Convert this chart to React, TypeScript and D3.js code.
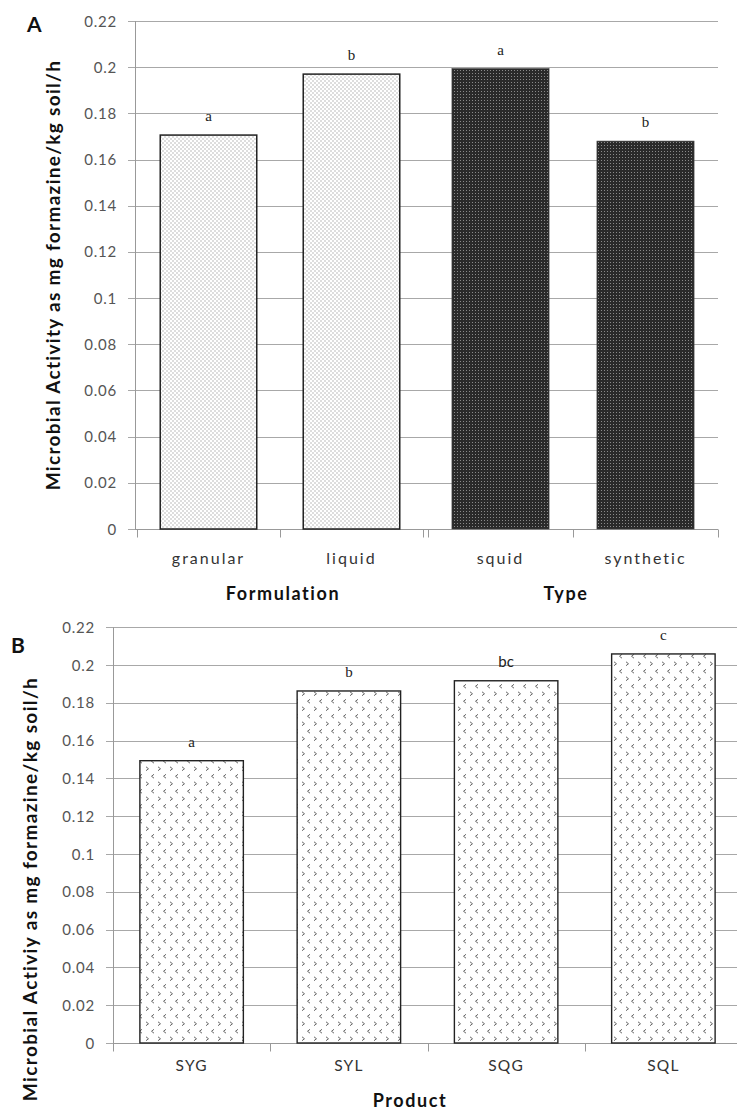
import React from "react";
import * as d3 from "d3";

const formulationCats = ["granular", "liquid"];
const formulationVals = [0.1706, 0.197];
const formulationLetters = ["a", "b"];
const typeCats = ["squid", "synthetic"];
const typeVals = [0.1994, 0.168];
const typeLetters = ["a", "b"];
const productCats = ["SYG", "SYL", "SQG", "SQL"];
const productVals = [0.1494, 0.1863, 0.1917, 0.2059];
const productLetters = ["a", "b", "bc", "c"];
const yTicks = [0, 0.02, 0.04, 0.06, 0.08, 0.1, 0.12, 0.14, 0.16, 0.18, 0.2, 0.22];
const yTitleA = "Microbial Activity as mg formazine/kg soil/h";
const yTitleB = "Microbial Activiy as mg formazine/kg soil/h";

const SANS = "Lato, 'Open Sans', sans-serif";
const SERIF = "'Liberation Serif', 'DejaVu Serif', serif";
const fmt = (v: number) => (v === 0 ? "0" : String(+v.toFixed(2)));

export default function App() {
  // Panel A
  const axA = 135;
  const yA = d3.scaleLinear().domain([0, 0.22]).range([529, 21]);
  const xF = d3.scaleBand<string>().domain(formulationCats).range([137, 423]);
  const xT = d3.scaleBand<string>().domain(typeCats).range([428, 718]);
  const rightA = 718;
  // Panel B
  const axB = 113;
  const yB = d3.scaleLinear().domain([0, 0.22]).range([1043, 627.3]);
  const xP = d3.scaleBand<string>().domain(productCats).range([113, 742]);
  const rightB = 745;

  const barW = (s: d3.ScaleBand<string>, r: number) => s.bandwidth() * r;

  const gridColor = "#a8a8a8";
  const axisColor = "#999";

  const renderYAxis = (y: d3.ScaleLinear<number, number>, ax: number, right: number, labelX: number) => (
    <g>
      {yTicks.map((t) => (
        <g key={t}>
          <line x1={ax - 7} x2={right} y1={Math.round(y(t)) + 0.5} y2={Math.round(y(t)) + 0.5} stroke={gridColor} strokeWidth={1} />
          <text x={labelX} y={y(t) + 5.5} textAnchor="end" fontFamily={SANS} fontSize={15} letterSpacing={0.8} fill="#555">
            {fmt(t)}
          </text>
        </g>
      ))}
      <line x1={ax + 0.5} x2={ax + 0.5} y1={y(0.22)} y2={y(0)} stroke={axisColor} strokeWidth={1} />
    </g>
  );

  const bandTicks = (s: d3.ScaleBand<string>, y0: number) => {
    const [a] = s.range();
    const pos = [a, ...s.domain().map((d) => (s(d) as number) + s.bandwidth())];
    return pos.map((p, i) => (
      <line key={i} x1={Math.round(p) + 0.5} x2={Math.round(p) + 0.5} y1={y0} y2={y0 + 8} stroke={axisColor} strokeWidth={1} />
    ));
  };

  return (
    <svg width={737} height={1114} style={{ position: "absolute", left: 0, top: 0, background: "#fff" }}>
      <defs>
        <pattern id="dotLight" width={4} height={4} patternUnits="userSpaceOnUse">
          <rect width={4} height={4} fill="#fff" />
          <rect x={0.5} y={0.5} width={1} height={1} fill="#777" />
          <rect x={2.5} y={2.5} width={1} height={1} fill="#777" />
        </pattern>
        <pattern id="dotDark" width={3} height={3} patternUnits="userSpaceOnUse">
          <rect width={3} height={3} fill="#2a2a2a" />
          <rect x={1} y={1} width={1} height={1} fill="#8a8a8a" />
        </pattern>
        <pattern id="chev" width={12} height={15} patternUnits="userSpaceOnUse">
          <rect width={12} height={15} fill="#fff" />
          <path d="M2,1.8 L4.5,3.75 L2,5.7 M10,9.3 L7.5,11.25 L10,13.2" fill="none" stroke="#555" strokeWidth={0.9} />
        </pattern>
      </defs>

      {/* ===== Panel A ===== */}
      <text x={27} y={32} fontFamily={SANS} fontWeight="bold" fontSize={21} fill="#111">A</text>
      {renderYAxis(yA, axA, rightA, 117)}
      <line x1={axA} x2={rightA} y1={529.5} y2={529.5} stroke={axisColor} />
      {bandTicks(xF, 529.5)}
      {bandTicks(xT, 529.5)}

      {formulationCats.map((c, i) => {
        const w = barW(xF, 0.675);
        const cx = (xF(c) as number) + xF.bandwidth() / 2;
        return (
          <g key={c}>
            <rect x={cx - w / 2} y={yA(formulationVals[i])} width={w} height={yA(0) - yA(formulationVals[i])} fill="url(#dotLight)" stroke="#222" strokeWidth={1.5} />
            <text x={cx} y={yA(formulationVals[i]) - 14} textAnchor="middle" fontFamily={SERIF} fontSize={15} fill="#222">{formulationLetters[i]}</text>
            <text x={cx} y={564} textAnchor="middle" fontFamily={SANS} fontSize={16} letterSpacing={2} fill="#333">{c}</text>
          </g>
        );
      })}
      {typeCats.map((c, i) => {
        const w = barW(xT, 0.67);
        const cx = (xT(c) as number) + xT.bandwidth() / 2;
        return (
          <g key={c}>
            <rect x={cx - w / 2} y={yA(typeVals[i])} width={w} height={yA(0) - yA(typeVals[i])} fill="url(#dotDark)" stroke="#444" strokeWidth={0.6} />
            <text x={cx} y={yA(typeVals[i]) - 14} textAnchor="middle" fontFamily={SERIF} fontSize={15} fill="#222">{typeLetters[i]}</text>
            <text x={cx} y={564} textAnchor="middle" fontFamily={SANS} fontSize={16} letterSpacing={2} fill="#333">{c}</text>
          </g>
        );
      })}
      <text x={283} y={600} textAnchor="middle" fontFamily={SANS} fontWeight="bold" fontSize={18} letterSpacing={1.6} fill="#111">Formulation</text>
      <text x={566} y={600} textAnchor="middle" fontFamily={SANS} fontWeight="bold" fontSize={18} letterSpacing={1.6} fill="#111">Type</text>
      <text transform={`translate(60,275) rotate(-90)`} textAnchor="middle" fontFamily={SANS} fontWeight="bold" fontSize={19} letterSpacing={1.3} fill="#111">{yTitleA}</text>

      {/* ===== Panel B ===== */}
      <text x={11} y={653} fontFamily={SANS} fontWeight="bold" fontSize={21} fill="#111">B</text>
      {renderYAxis(yB, axB, rightB, 95)}
      <line x1={axB} x2={rightB} y1={1043.5} y2={1043.5} stroke={axisColor} />
      {bandTicks(xP, 1043.5)}
      {productCats.map((c, i) => {
        const w = barW(xP, 0.658);
        const cx = (xP(c) as number) + xP.bandwidth() / 2;
        return (
          <g key={c}>
            <rect x={cx - w / 2} y={yB(productVals[i])} width={w} height={yB(0) - yB(productVals[i])} fill="url(#chev)" stroke="#222" strokeWidth={1.4} />
            <text x={cx} y={yB(productVals[i]) - 14} textAnchor="middle" fontFamily={productLetters[i] === "bc" ? SANS : SERIF} fontSize={15} fill="#222">{productLetters[i]}</text>
            <text x={cx} y={1071} textAnchor="middle" fontFamily={SANS} fontSize={15.5} letterSpacing={1.2} fill="#333">{c}</text>
          </g>
        );
      })}
      <text x={410} y={1107} textAnchor="middle" fontFamily={SANS} fontWeight="bold" fontSize={18} letterSpacing={1.6} fill="#111">Product</text>
      <text transform={`translate(37,889) rotate(-90)`} textAnchor="middle" fontFamily={SANS} fontWeight="bold" fontSize={19} letterSpacing={1.35} fill="#111">{yTitleB}</text>
    </svg>
  );
}
